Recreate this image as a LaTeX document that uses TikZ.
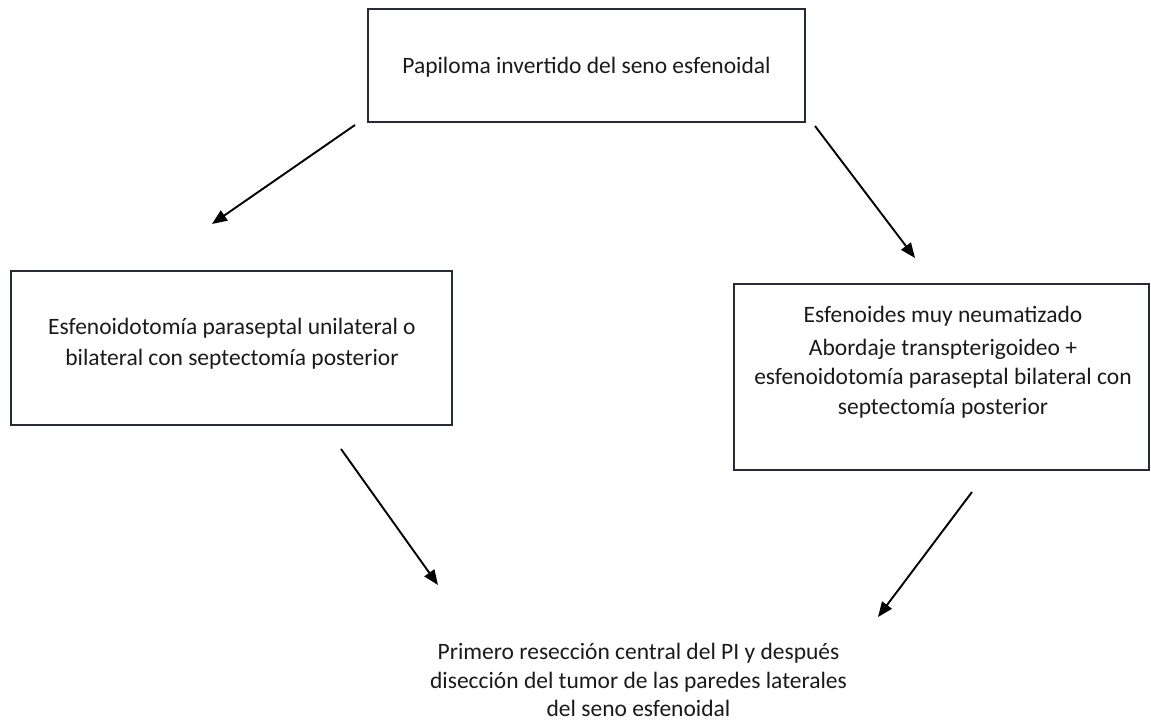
\documentclass[tikz,border=0pt]{standalone}
\usepackage{fontspec}
\setmainfont{Carlito}
\usetikzlibrary{arrows.meta}
\definecolor{boxline}{HTML}{262B36}
\definecolor{txt}{HTML}{1A1A1A}
\tikzset{
  boxnode/.style={draw=boxline, line width=1.4pt, inner sep=0pt},
  txtnode/.style={align=center, text=txt, font=\fontsize{23.5}{29}\selectfont, inner sep=0pt},
  arr/.style={line width=1.9pt, -{Triangle[length=15pt,width=12pt]}},
}
\begin{document}
\begin{tikzpicture}[x=1pt,y=-1pt]
\useasboundingbox (0,0) rectangle (1151,727);
% boxes
\node[boxnode, minimum width=437pt, minimum height=113pt] (top) at (586.5,65.5) {};
\node[txtnode] (toptext) at (586.5,67) {Papiloma invertido del seno esfenoidal};

\node[boxnode, minimum width=441pt, minimum height=154pt] (left) at (231.5,348) {};
\node[txtnode, font=\fontsize{23.5}{31}\selectfont] (lefttext) at (232,344) {Esfenoidotomía paraseptal unilateral o\\bilateral con septectomía posterior};

\node[boxnode, minimum width=415pt, minimum height=186pt] (right) at (941.5,377) {};
\node[txtnode, font=\fontsize{23.5}{29.5}\selectfont] (righttext) at (943,362) {Esfenoides muy neumatizado\\[3.5pt]Abordaje transpterigoideo +\\esfenoidotomía paraseptal bilateral con\\septectomía posterior};

\node[txtnode, font=\fontsize{23.5}{28.3}\selectfont] (bottom) at (638.5,680) {Primero resección central del PI y después\\disección del tumor de las paredes laterales\\del seno esfenoidal};

% arrow end points
\coordinate (a1s) at (355,125);
\coordinate (a1e) at (212,224);
\coordinate (a2s) at (815,126);
\coordinate (a2e) at (915,258);
\coordinate (a3s) at (341,449);
\coordinate (a3e) at (438,585);
\coordinate (a4s) at (972,492);
\coordinate (a4e) at (878,617);

\draw[arr] (a1s) -- (a1e);
\draw[arr] (a2s) -- (a2e);
\draw[arr] (a3s) -- (a3e);
\draw[arr] (a4s) -- (a4e);
\end{tikzpicture}
\end{document}
